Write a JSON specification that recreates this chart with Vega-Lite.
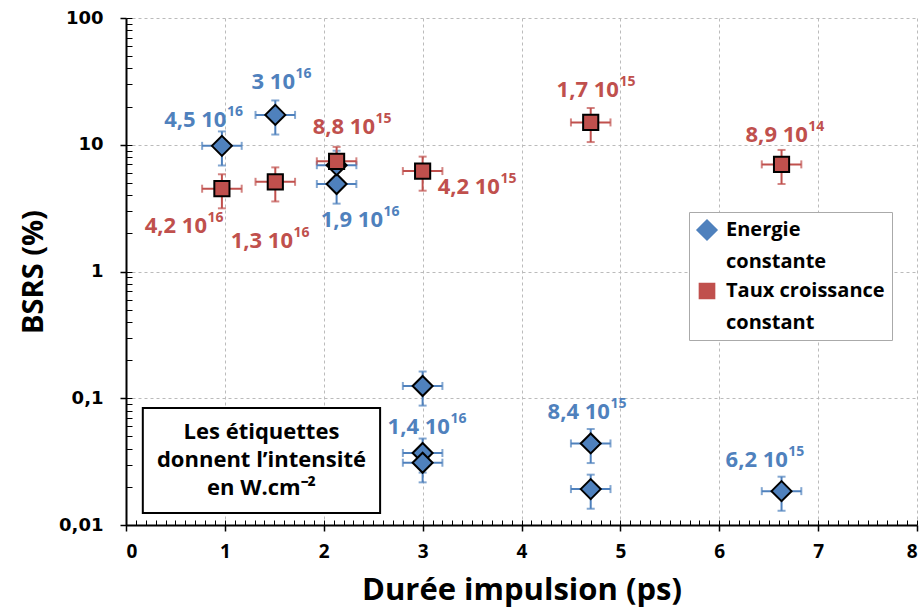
{
  "$schema": "https://vega.github.io/schema/vega-lite/v6.json",
  "width": 791,
  "height": 507,
  "autosize": "none",
  "padding": {"left": 126, "top": 18, "right": 5, "bottom": 88},
  "background": "white",
  "config": {"view": {"stroke": null}, "font": "Open Sans", "legend": {"symbolStrokeColor": "black", "symbolStrokeWidth": 1.5}},
  "datasets": {
    "pts": [
      {"series": "Energie constante", "x": 0.97, "y": 9.8, "xlo": 0.77, "xhi": 1.17, "ylo": 6.86, "yhi": 12.74},
      {"series": "Energie constante", "x": 1.51, "y": 17.2, "xlo": 1.31, "xhi": 1.71, "ylo": 12.04, "yhi": 22.36},
      {"series": "Energie constante", "x": 2.13, "y": 4.9, "xlo": 1.93, "xhi": 2.33, "ylo": 3.43, "yhi": 6.37},
      {"series": "Energie constante", "x": 2.13, "y": 6.9, "xlo": 1.93, "xhi": 2.33, "ylo": 4.83, "yhi": 8.97},
      {"series": "Energie constante", "x": 3.0, "y": 0.125, "xlo": 2.8, "xhi": 3.2, "ylo": 0.0875, "yhi": 0.1625},
      {"series": "Energie constante", "x": 3.0, "y": 0.037, "xlo": 2.8, "xhi": 3.2, "ylo": 0.0259, "yhi": 0.0481},
      {"series": "Energie constante", "x": 3.0, "y": 0.031, "xlo": 2.8, "xhi": 3.2, "ylo": 0.0217, "yhi": 0.0403},
      {"series": "Energie constante", "x": 4.7, "y": 0.044, "xlo": 4.5, "xhi": 4.9, "ylo": 0.0308, "yhi": 0.0572},
      {"series": "Energie constante", "x": 4.7, "y": 0.0192, "xlo": 4.5, "xhi": 4.9, "ylo": 0.01344, "yhi": 0.02496},
      {"series": "Energie constante", "x": 6.63, "y": 0.0185, "xlo": 6.43, "xhi": 6.83, "ylo": 0.01295, "yhi": 0.02405},
      {"series": "Taux croissance constant", "x": 0.97, "y": 4.5, "xlo": 0.77, "xhi": 1.17, "ylo": 3.15, "yhi": 5.85},
      {"series": "Taux croissance constant", "x": 1.51, "y": 5.1, "xlo": 1.31, "xhi": 1.71, "ylo": 3.57, "yhi": 6.63},
      {"series": "Taux croissance constant", "x": 2.13, "y": 7.4, "xlo": 1.93, "xhi": 2.33, "ylo": 5.18, "yhi": 9.62},
      {"series": "Taux croissance constant", "x": 3.0, "y": 6.2, "xlo": 2.8, "xhi": 3.2, "ylo": 4.34, "yhi": 8.06},
      {"series": "Taux croissance constant", "x": 4.7, "y": 15.0, "xlo": 4.5, "xhi": 4.9, "ylo": 10.5, "yhi": 19.5},
      {"series": "Taux croissance constant", "x": 6.63, "y": 7.0, "xlo": 6.43, "xhi": 6.83, "ylo": 4.9, "yhi": 9.1}
    ],
    "labels": [
      {"series": "Energie constante", "x": 1.016, "y": 15.7, "base": "4,5 10", "exp": "16"},
      {"series": "Energie constante", "x": 1.709, "y": 31.3, "base": "3 10", "exp": "16"},
      {"series": "Energie constante", "x": 2.599, "y": 2.55, "base": "1,9 10", "exp": "16"},
      {"series": "Energie constante", "x": 3.276, "y": 0.0593, "base": "1,4 10", "exp": "16"},
      {"series": "Energie constante", "x": 4.894, "y": 0.078, "base": "8,4 10", "exp": "15"},
      {"series": "Energie constante", "x": 6.694, "y": 0.0323, "base": "6,2 10", "exp": "15"},
      {"series": "Taux croissance constant", "x": 0.819, "y": 2.29, "base": "4,2 10", "exp": "16"},
      {"series": "Taux croissance constant", "x": 1.689, "y": 1.74, "base": "1,3 10", "exp": "16"},
      {"series": "Taux croissance constant", "x": 2.518, "y": 13.8, "base": "8,8 10", "exp": "15"},
      {"series": "Taux croissance constant", "x": 3.782, "y": 4.65, "base": "4,2 10", "exp": "15"},
      {"series": "Taux croissance constant", "x": 4.985, "y": 26.8, "base": "1,7 10", "exp": "15"},
      {"series": "Taux croissance constant", "x": 6.896, "y": 11.9, "base": "8,9 10", "exp": "14"}
    ]
  },
  "resolve": {"axis": {"x": "independent", "y": "independent"}},
  "layer": [
    {
      "data": {"values": [{}]},
      "mark": {"type": "rect", "fill": "white", "stroke": "black", "strokeWidth": 2},
      "encoding": {
        "x": {"datum": 0.17, "type": "quantitative", "scale": {"domain": [0, 8], "nice": false, "zero": false},
          "axis": {"orient": "bottom", "values": [0,0.1,0.2,0.3,0.4,0.5,0.6,0.7,0.8,0.9,1,1.1,1.2,1.3,1.4,1.5,1.6,1.7,1.8,1.9,2,2.1,2.2,2.3,2.4,2.5,2.6,2.7,2.8,2.9,3,3.1,3.2,3.3,3.4,3.5,3.6,3.7,3.8,3.9,4,4.1,4.2,4.3,4.4,4.5,4.6,4.7,4.8,4.9,5,5.1,5.2,5.3,5.4,5.5,5.6,5.7,5.8,5.9,6,6.1,6.2,6.3,6.4,6.5,6.6,6.7,6.8,6.9,7,7.1,7.2,7.3,7.4,7.5,7.6,7.7,7.8,7.9,8], "tickSize": -5, "tickColor": "black", "tickWidth": 1, "labels": false, "domain": false, "grid": false, "title": null}},
        "x2": {"datum": 2.57},
        "y": {"datum": 0.0838, "type": "quantitative", "scale": {"type": "log", "domain": [0.01, 100], "nice": false},
          "axis": {"orient": "left", "values": [0.01,0.02,0.03,0.04,0.05,0.06,0.07,0.08,0.09,0.1,0.2,0.3,0.4,0.5,0.6,0.7,0.8,0.9,1,2,3,4,5,6,7,8,9,10,20,30,40,50,60,70,80,90,100], "tickSize": -6, "tickColor": "black", "tickWidth": 1, "labels": false, "domain": false, "grid": false, "title": null}},
        "y2": {"datum": 0.01245}
      }
    },
    {
      "data": {"values": [{}]},
      "mark": {"type": "text", "fontSize": 22, "fontWeight": "bold", "font": "Open Sans", "color": "black", "baseline": "middle", "align": "center", "lineHeight": 28},
      "encoding": {
        "x": {"datum": 1.37, "type": "quantitative", "axis": null},
        "y": {"datum": 0.0542, "type": "quantitative", "axis": null},
        "text": {"value": ["Les étiquettes", "donnent l’intensité", "en W.cm⁻²"]}
      }
    },
    {
      "data": {"name": "pts"},
      "mark": {"type": "errorbar", "ticks": {"size": 8, "thickness": 2}, "rule": {"strokeWidth": 2}},
      "encoding": {
        "x": {"field": "xlo", "type": "quantitative", "axis": null},
        "x2": {"field": "xhi"},
        "y": {"field": "y", "type": "quantitative", "axis": null},
        "color": {"field": "series", "type": "nominal", "title": null, "scale": {"domain": ["Energie constante", "Taux croissance constant"], "range": ["#4F81BD", "#C0504D"]}}
      }
    },
    {
      "data": {"name": "pts"},
      "mark": {"type": "errorbar", "ticks": {"size": 8, "thickness": 2}, "rule": {"strokeWidth": 2}},
      "encoding": {
        "y": {"field": "ylo", "type": "quantitative", "axis": null},
        "y2": {"field": "yhi"},
        "x": {"field": "x", "type": "quantitative", "axis": null},
        "color": {"field": "series", "type": "nominal", "title": null}
      }
    },
    {
      "data": {"name": "pts"},
      "mark": {"type": "point", "filled": true, "opacity": 1, "stroke": "black", "strokeWidth": 2},
      "encoding": {
        "x": {"field": "x", "type": "quantitative",
          "axis": {"orient": "bottom", "values": [0,1,2,3,4,5,6,7,8], "tickSize": 6, "tickColor": "black", "tickWidth": 1.5, "domainColor": "black", "domainWidth": 2, "grid": true, "gridColor": "#bbbbbb", "gridDash": [3, 3], "gridWidth": 1, "labelFont": "Open Sans", "labelFontSize": 19, "labelFontWeight": "bold", "labelColor": "black", "labelPadding": 11, "title": "Durée impulsion (ps)", "titleFont": "Open Sans", "titleFontSize": 31, "titleFontWeight": "bold", "titleColor": "black", "titlePadding": 14}},
        "y": {"field": "y", "type": "quantitative",
          "axis": {"orient": "left", "values": [0.01, 0.1, 1, 10, 100], "labelExpr": "replace(format(datum.value, '~g'), '.', ',')", "tickSize": 6, "tickColor": "black", "tickWidth": 1.5, "domainColor": "black", "domainWidth": 2, "grid": true, "gridColor": "#bbbbbb", "gridDash": [3, 3], "gridWidth": 1, "labelFont": "DejaVu Sans", "labelFontSize": 18, "labelFontWeight": "bold", "labelColor": "black", "labelPadding": 17, "title": "BSRS (%)", "titleFont": "Open Sans", "titleFontSize": 29, "titleFontWeight": "bold", "titleColor": "black", "titlePadding": 10}},
        "color": {"field": "series", "type": "nominal", "title": null,
          "legend": {"orient": "none", "legendX": 563, "legendY": 194, "strokeColor": "#aaaaaa", "fillColor": "white", "padding": 7, "labelFont": "Open Sans", "labelFontSize": 20, "labelFontWeight": "bold", "labelColor": "black", "labelLimit": 300, "labelBaseline": "middle", "labelOffset": 8, "symbolOpacity": 1, "symbolStrokeColor": "black", "symbolStrokeWidth": 1.5, "symbolSize": 200, "rowPadding": 8, "labelExpr": "datum.label == 'Energie constante' ? ['Energie', 'constante'] : ['Taux croissance', 'constant']", "encode": {"symbols": {"update": {"stroke": {"value": "black"}, "strokeOpacity": {"value": 1}, "strokeWidth": {"value": 1.5}, "opacity": {"value": 1}}}, "labels": {"update": {"lineHeight": {"value": 32}}}}}},
        "shape": {"field": "series", "type": "nominal", "scale": {"domain": ["Energie constante", "Taux croissance constant"], "range": ["diamond", "square"]}, "title": null},
        "size": {"field": "series", "type": "nominal", "scale": {"domain": ["Energie constante", "Taux croissance constant"], "range": [400, 230]}, "title": null}
      }
    },
    {
      "data": {"name": "labels"},
      "mark": {"type": "text", "fontSize": 22, "fontWeight": "bold", "font": "Open Sans", "baseline": "middle", "align": "right"},
      "encoding": {
        "x": {"field": "x", "type": "quantitative", "axis": null},
        "y": {"field": "y", "type": "quantitative", "axis": null},
        "text": {"field": "base"},
        "color": {"field": "series", "type": "nominal", "title": null}
      }
    },
    {
      "data": {"name": "labels"},
      "mark": {"type": "text", "fontSize": 14, "fontWeight": "bold", "font": "Open Sans", "baseline": "middle", "align": "left", "dx": 0.5, "dy": -8},
      "encoding": {
        "x": {"field": "x", "type": "quantitative", "axis": null},
        "y": {"field": "y", "type": "quantitative", "axis": null},
        "text": {"field": "exp"},
        "color": {"field": "series", "type": "nominal", "title": null}
      }
    }
  ]
}
